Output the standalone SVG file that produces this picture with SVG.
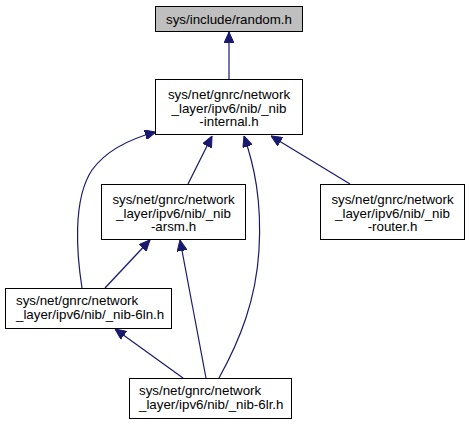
<svg xmlns="http://www.w3.org/2000/svg" width="470" height="424" viewBox="0 0 470 424">
<defs>
<style>
.node rect{fill:#ffffff;stroke:#000000;stroke-width:1}
.node.root rect{fill:#bfbfbf}
.node text{font-family:"Liberation Sans",Arial,Helvetica,sans-serif;font-size:13.33px;fill:#000000}
.edge path{fill:none;stroke:#191970;stroke-width:1.2}
</style>
<marker id="ah" viewBox="0 0 11 10" refX="11" refY="5" markerWidth="11" markerHeight="10" markerUnits="userSpaceOnUse" orient="auto">
<path d="M0,0 L11,5 L0,10 z" fill="#191970" stroke="#191970" stroke-width="1"/>
</marker>
</defs>
<rect width="470" height="424" fill="#ffffff"/>
<g id="edges" class="edge">
<path d="M229,79 L229,32" marker-end="url(#ah)"/>
<path d="M188,184 L212,136" marker-end="url(#ah)"/>
<path d="M350,184 L271,136" marker-end="url(#ah)"/>
<path d="M82,288 C77,256 72,200 92,170 C108,148 133,138 156,132" marker-end="url(#ah)"/>
<path d="M219,378 C240,340 256,300 259,250 C262,200 254,165 244,136" marker-end="url(#ah)"/>
<path d="M105,288 L150,240" marker-end="url(#ah)"/>
<path d="M206,378 L180,240" marker-end="url(#ah)"/>
<path d="M183,378 L115,329" marker-end="url(#ah)"/>
</g>
<g id="node-random" class="node root">
<rect x="155.5" y="6.5" width="147" height="25"/>
<text x="229" y="23.5" text-anchor="middle">sys/include/random.h</text>
</g>
<g id="node-internal" class="node">
<rect x="155.5" y="79.5" width="147" height="55"/>
<text x="229" y="99" text-anchor="middle">sys/net/gnrc/network</text>
<text x="229" y="112.5" text-anchor="middle">_layer/ipv6/nib/_nib</text>
<text x="229" y="126" text-anchor="middle">-internal.h</text>
</g>
<g id="node-arsm" class="node">
<rect x="101.5" y="184.5" width="144" height="55"/>
<text x="173.5" y="204" text-anchor="middle">sys/net/gnrc/network</text>
<text x="173.5" y="217.5" text-anchor="middle">_layer/ipv6/nib/_nib</text>
<text x="173.5" y="231" text-anchor="middle">-arsm.h</text>
</g>
<g id="node-router" class="node">
<rect x="320.5" y="184.5" width="144" height="55"/>
<text x="392.5" y="204" text-anchor="middle">sys/net/gnrc/network</text>
<text x="392.5" y="217.5" text-anchor="middle">_layer/ipv6/nib/_nib</text>
<text x="392.5" y="231" text-anchor="middle">-router.h</text>
</g>
<g id="node-6ln" class="node">
<rect x="5.5" y="288.5" width="166" height="40"/>
<text x="16" y="305">sys/net/gnrc/network</text>
<text x="16" y="318.5">_layer/ipv6/nib/_nib-6ln.h</text>
</g>
<g id="node-6lr" class="node">
<rect x="129.5" y="378.5" width="162" height="40"/>
<text x="139" y="395">sys/net/gnrc/network</text>
<text x="139" y="408.5">_layer/ipv6/nib/_nib-6lr.h</text>
</g>
</svg>
